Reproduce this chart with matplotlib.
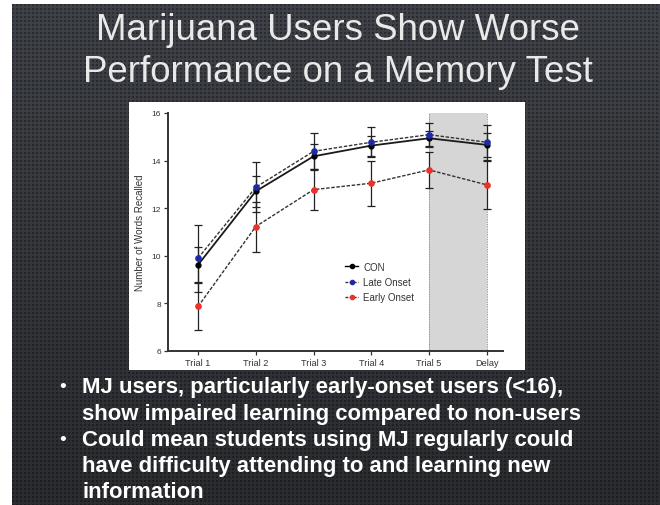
import numpy as np
import matplotlib
matplotlib.use("Agg")
import matplotlib.pyplot as plt
from matplotlib.lines import Line2D

# ---- data ----
trials = ["Trial 1", "Trial 2", "Trial 3", "Trial 4", "Trial 5", "Delay"]
con_mean = [9.62, 12.71, 14.18, 14.63, 14.94, 14.66]
con_err = [0.74, 0.66, 0.52, 0.42, 0.32, 0.49]
late_mean = [9.90, 12.88, 14.39, 14.77, 15.09, 14.77]
late_err = [1.40, 1.05, 0.76, 0.63, 0.50, 0.73]
early_mean = [7.87, 11.23, 12.78, 13.05, 13.61, 12.98]
early_err = [1.00, 1.05, 0.84, 0.95, 0.77, 1.00]
series_names = ["CON", "Late Onset", "Early Onset"]
yticks = [6, 8, 10, 12, 14, 16]

title_lines = ["Marijuana Users Show Worse", "Performance on a Memory Test"]
bullet_lines = [
    ("\u2022", "MJ users, particularly early-onset users (<16),"),
    ("", "show impaired learning compared to non-users"),
    ("\u2022", "Could mean students using MJ regularly could"),
    ("", "have difficulty attending to and learning new"),
    ("", "information"),
]

W, H = 660, 506
fig = plt.figure(figsize=(W / 100, H / 100), dpi=100)
fig.patch.set_facecolor("white")

# ---- slide background with a fine dotted texture ----
sx0, sy0 = 12, 5
bg = fig.add_axes([sx0 / W, 0, (W - sx0) / W, (H - sy0) / H])
bg.set_axis_off()
hh, ww = H - sy0, W - sx0
ii, jj = np.mgrid[0:hh, 0:ww]
t = (ii / hh)[..., None]
base = (np.array([62, 65, 71]) * (1 - t) + np.array([42, 43, 47]) * t) / 255.0
dark = base * 0.68
light = np.clip(base * 1.08, 0, 1)
dots = ((ii % 4) < 2) & ((jj % 4) < 2)
hl = ((ii % 4) == 3) & ((jj % 4) == 3)
tex = np.where(dots[..., None], dark, np.where(hl[..., None], light, base))
bg.imshow(tex, interpolation="nearest", aspect="auto")

# ---- title ----
for k, line in enumerate(title_lines):
    fig.text(338 / W, 1 - (31 + 42 * k) / H, line, ha="center", va="center",
             color="#e9e9e9", fontsize=26.4, family="Liberation Sans")

# ---- bullets ----
for k, (b, line) in enumerate(bullet_lines):
    yy = 1 - (388 + 26.2 * k) / H
    if b:
        fig.text(63 / W, yy, b, ha="center", va="center", color="white",
                 fontsize=14, family="Liberation Sans")
    fig.text(82 / W, yy, line, ha="left", va="center", color="white",
             fontsize=15.9, fontweight="bold", family="Liberation Sans")

# ---- white chart panel ----
panel = fig.add_axes([129 / W, 1 - 371 / H, 396 / W, 268 / H])
panel.set_facecolor("white")
panel.set_xticks([])
panel.set_yticks([])
for s in panel.spines.values():
    s.set_visible(False)

# ---- chart ----
ax = fig.add_axes([168 / W, 1 - 352 / H, 335 / W, 238 / H])
ax.set_facecolor("none")
x = np.arange(len(trials))

ax.axvspan(4, 5, ymin=0, ymax=1, color="#d6d6d6", zorder=0, lw=0)
for xv in (4, 5):
    ax.axvline(xv, color="#777777", lw=0.6, ls=(0, (1, 1)), zorder=0.5)

ax.errorbar(x, con_mean, yerr=con_err, fmt="o-", color="#1a1a1a", lw=1.3,
            ms=3.5, mfc="black", mec="black", ecolor="#222222", elinewidth=0.9,
            capsize=3, capthick=0.9, zorder=3)
ax.errorbar(x, late_mean, yerr=late_err, fmt="o", ls=(0, (2.5, 1.2)),
            color="#333333", lw=1.0, ms=3.8, mfc="#1c2aa8", mec="#1c2aa8",
            ecolor="#222222", elinewidth=0.9, capsize=3, capthick=0.9, zorder=3)
ax.errorbar(x, early_mean, yerr=early_err, fmt="o", ls=(0, (2.5, 1.2)),
            color="#333333", lw=1.0, ms=3.8, mfc="#e8332b", mec="#e8332b",
            ecolor="#222222", elinewidth=0.9, capsize=3, capthick=0.9, zorder=3)

ax.set_xlim(-0.52, 5.28)
ax.set_ylim(6, 16)
ax.set_xticks(x)
ax.set_xticklabels(trials, fontsize=6.6, family="Liberation Sans", color="#333333")
ax.set_yticks(yticks)
ax.set_yticklabels([str(v) for v in yticks], fontsize=6, family="Liberation Sans",
                   color="#333333")
ax.tick_params(direction="out", length=3, width=0.9, pad=2, colors="#333333")
ax.set_ylabel("Number of Words Recalled", fontsize=7, family="Liberation Sans",
              color="#333333", labelpad=5)
for s in ("top", "right"):
    ax.spines[s].set_visible(False)
for s in ("left", "bottom"):
    ax.spines[s].set_linewidth(1.4)
    ax.spines[s].set_color("#333333")

handles = [
    Line2D([], [], color="black", lw=1.0, marker="o", ms=3, mfc="black", mec="black"),
    Line2D([], [], color="#333333", lw=1.0, ls=(0, (2, 1)), marker="o", ms=3,
           mfc="#1c2aa8", mec="#1c2aa8"),
    Line2D([], [], color="#333333", lw=1.0, ls=(0, (2, 1)), marker="o", ms=3,
           mfc="#e8332b", mec="#e8332b"),
]
ax.legend(handles, series_names, loc="center left",
          bbox_to_anchor=((336 - 168) / 335, (352 - 283) / 238),
          frameon=False, prop={"family": "Liberation Sans", "size": 7},
          handlelength=1.4, handletextpad=0.5, labelspacing=0.55,
          labelcolor="#333333")

fig.savefig("out.png", dpi=100, facecolor=fig.get_facecolor())
